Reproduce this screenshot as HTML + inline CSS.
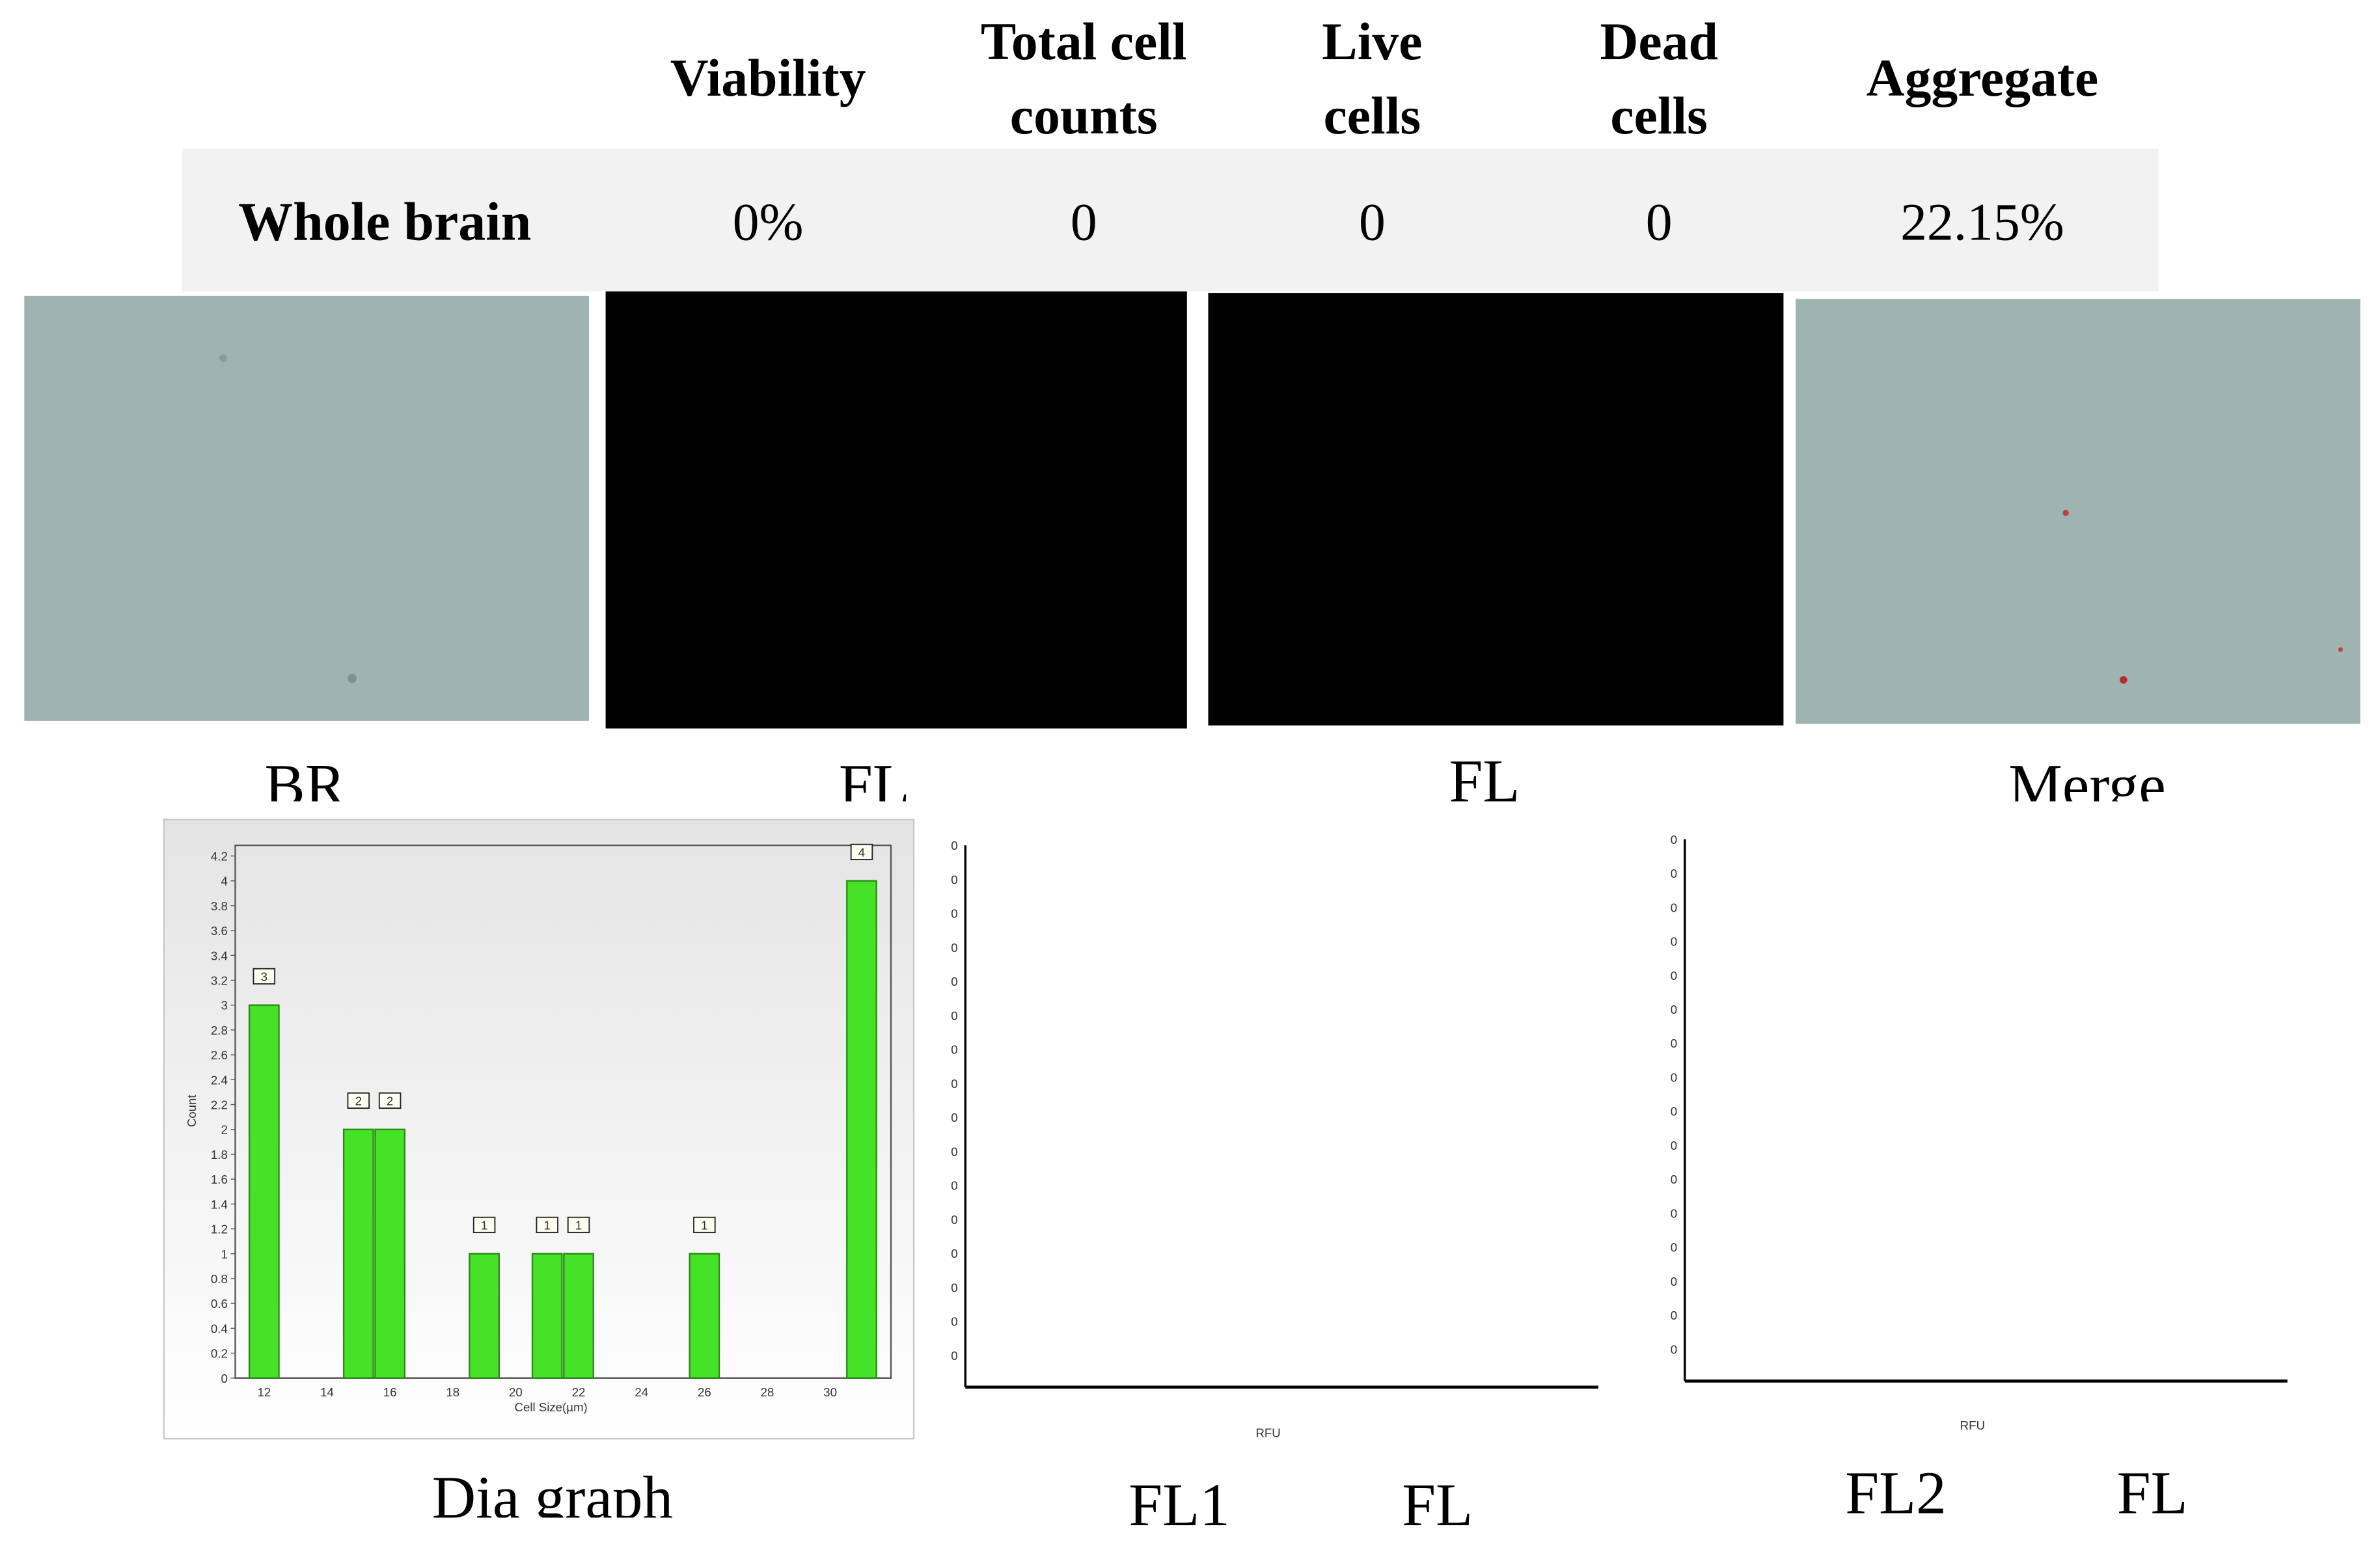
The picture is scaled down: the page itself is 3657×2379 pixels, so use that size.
<!DOCTYPE html>
<html><head><meta charset="utf-8"><style>
html,body{margin:0;padding:0;background:#fff;}
svg{display:block;}
.hd{font-family:"Liberation Serif",serif;font-weight:bold;font-size:35px;fill:#000;text-anchor:middle;}
.val{font-family:"Liberation Serif",serif;font-size:35px;fill:#000;text-anchor:middle;}
.cap{font-family:"Liberation Serif",serif;font-size:40px;fill:#000;text-anchor:middle;}
.tk{font-family:"Liberation Sans",sans-serif;font-size:8px;fill:#333;}
</style></head><body>
<svg id="fig" width="3657" height="2379" viewBox="0 0 1568 1020" preserveAspectRatio="none" xmlns="http://www.w3.org/2000/svg">
<defs>
<linearGradient id="pg" x1="0" y1="0" x2="0" y2="1"><stop offset="0" stop-color="#e4e4e4"/><stop offset="1" stop-color="#ffffff"/></linearGradient>
<clipPath id="c1"><rect x="0" y="480" width="1568" height="48"/></clipPath>
<clipPath id="c2"><rect x="0" y="950" width="1568" height="50"/></clipPath>
<clipPath id="c3"><rect x="0" y="950" width="1568" height="56"/></clipPath>
</defs>
<g>
<text class="hd" x="506" y="63">Viability</text>
<text class="hd" x="714" y="39">Total cell<tspan x="714" y="88">counts</tspan></text>
<text class="hd" x="904" y="39">Live<tspan x="904" y="88">cells</tspan></text>
<text class="hd" x="1093" y="39">Dead<tspan x="1093" y="88">cells</tspan></text>
<text class="hd" x="1306" y="63">Aggregate</text>
</g>
<rect x="120" y="98" width="1302" height="94" fill="#f2f2f2"/>
<text class="hd" x="157" y="158" style="text-anchor:start;font-size:36px">Whole brain</text>
<text class="val" x="506" y="158">0%</text>
<text class="val" x="714" y="158">0</text>
<text class="val" x="904" y="158">0</text>
<text class="val" x="1093" y="158">0</text>
<text class="val" x="1306" y="158">22.15%</text>

<rect x="16" y="195" width="372" height="280" fill="#9fb3b1"/>
<rect x="399" y="192" width="383" height="288" fill="#000"/>
<rect x="796" y="193" width="379" height="285" fill="#000"/>
<rect x="1183" y="197" width="372" height="280" fill="#9fb3b1"/>
<circle cx="1361" cy="338" r="2" fill="#c04040"/>
<circle cx="1399" cy="448" r="2.5" fill="#b03030"/>
<circle cx="1542" cy="428" r="1.5" fill="#c04040"/>
<circle cx="232" cy="447" r="3" fill="#7f908f"/>
<circle cx="147" cy="236" r="2.5" fill="#8a9c9a"/>

<g clip-path="url(#c1)">
<text class="cap" x="201" y="531">BR</text>
<text class="cap" x="576" y="531">FL</text>
<text class="cap" x="978" y="528">FL</text>
<text class="cap" x="1375" y="531">Merge</text>
</g>

<rect x="108" y="540" width="494" height="408" fill="url(#pg)" stroke="#c8c8c8" stroke-width="1"/>
<g id="hist"></g>
<g id="fl1"></g>
<g id="fl2"></g>

<g clip-path="url(#c2)">
<text class="cap" x="364" y="1000">Dia graph</text>
<text class="cap" x="1249" y="997">FL2</text>
<text class="cap" x="1418" y="997">FL</text>
</g>
<g clip-path="url(#c3)">
<text class="cap" x="777" y="1005">FL1</text>
<text class="cap" x="947" y="1005">FL</text>
</g>
</svg>
<script>
const sizes = [12, 15, 16, 19, 21, 22, 26, 31];
const counts = [3, 2, 2, 1, 1, 1, 1, 4];
const xTicks = [12, 14, 16, 18, 20, 22, 24, 26, 28, 30];
const yTicks = [0,0.2,0.4,0.6,0.8,1,1.2,1.4,1.6,1.8,2,2.2,2.4,2.6,2.8,3,3.2,3.4,3.6,3.8,4,4.2];
const flTickLabels = ["0","0","0","0","0","0","0","0","0","0","0","0","0","0","0","0"];

const NS = "http://www.w3.org/2000/svg";
function mk(tag, attrs, parent){const e=document.createElementNS(NS,tag);for(const k in attrs)e.setAttribute(k,attrs[k]);parent.appendChild(e);return e;}
const xS = v => 174 + (v - 12) * 20.72;
const yS = v => 908 - v * 81.9;

const h = document.getElementById('hist');
const frame = mk('rect',{x:155,y:557,width:432,height:351,fill:'none',stroke:'#555','stroke-width':1},h);


yTicks.forEach(v=>{
  const t=mk('text',{x:150,y:yS(v)+3,'text-anchor':'end',class:'tk'},h);
  t.textContent = String(v);
  
  
  const l=mk('line',{x1:152,x2:155,y1:yS(v),y2:yS(v),stroke:'#555','stroke-width':0.6},h);
  
  
});
xTicks.forEach(v=>{
  const t=mk('text',{x:xS(v),y:920,'text-anchor':'middle',class:'tk'},h);
  t.textContent = String(v);
  
  
});
const yt=mk('text',{x:0,y:0,'text-anchor':'middle',class:'tk',transform:'translate(129,732) rotate(-90)'},h);
yt.textContent='Count';


const xt=mk('text',{x:363,y:930,'text-anchor':'middle',class:'tk'},h);
xt.textContent='Cell Size(µm)';


sizes.forEach((s,i)=>{
  const x0=xS(s-0.47), x1=xS(s+0.47), y=yS(counts[i]);
  const b=mk('rect',{x:x0,y:y,width:x1-x0,height:908-y,fill:'#46e228',stroke:'#2a8a18','stroke-width':1},h);
  
  
  const bx=mk('rect',{x:xS(s)-7,y:y-24,width:14,height:10,fill:'#fffff0',stroke:'#222','stroke-width':0.8},h);
  
  
  const bt=mk('text',{x:xS(s),y:y-16,'text-anchor':'middle',class:'tk','font-size':7},h);
  bt.textContent=String(counts[i]);
  
  
});

function flChart(id, ax, top, bottom, right, rfuY){
  const g=document.getElementById(id);
  const va=mk('line',{x1:ax,x2:ax,y1:top,y2:bottom,stroke:'#000','stroke-width':1.5},g);
  
  
  const ha=mk('line',{x1:ax,x2:right,y1:bottom,y2:bottom,stroke:'#000','stroke-width':2},g);
  
  
  const step=22.4;
  flTickLabels.forEach((lab,i)=>{
    const t=mk('text',{x:ax-5,y:top+i*step+3,'text-anchor':'end',class:'tk','font-size':7},g);
    t.textContent=lab;
    
    
  });
  const r=mk('text',{x:(ax+right)/2 - 9,y:rfuY,'text-anchor':'middle',class:'tk','font-size':6},g);
  r.textContent='RFU';
  
  
}
flChart('fl1',636,557,914,1053,947);
flChart('fl2',1110,553,910,1507,942);
</script>
</body></html>
